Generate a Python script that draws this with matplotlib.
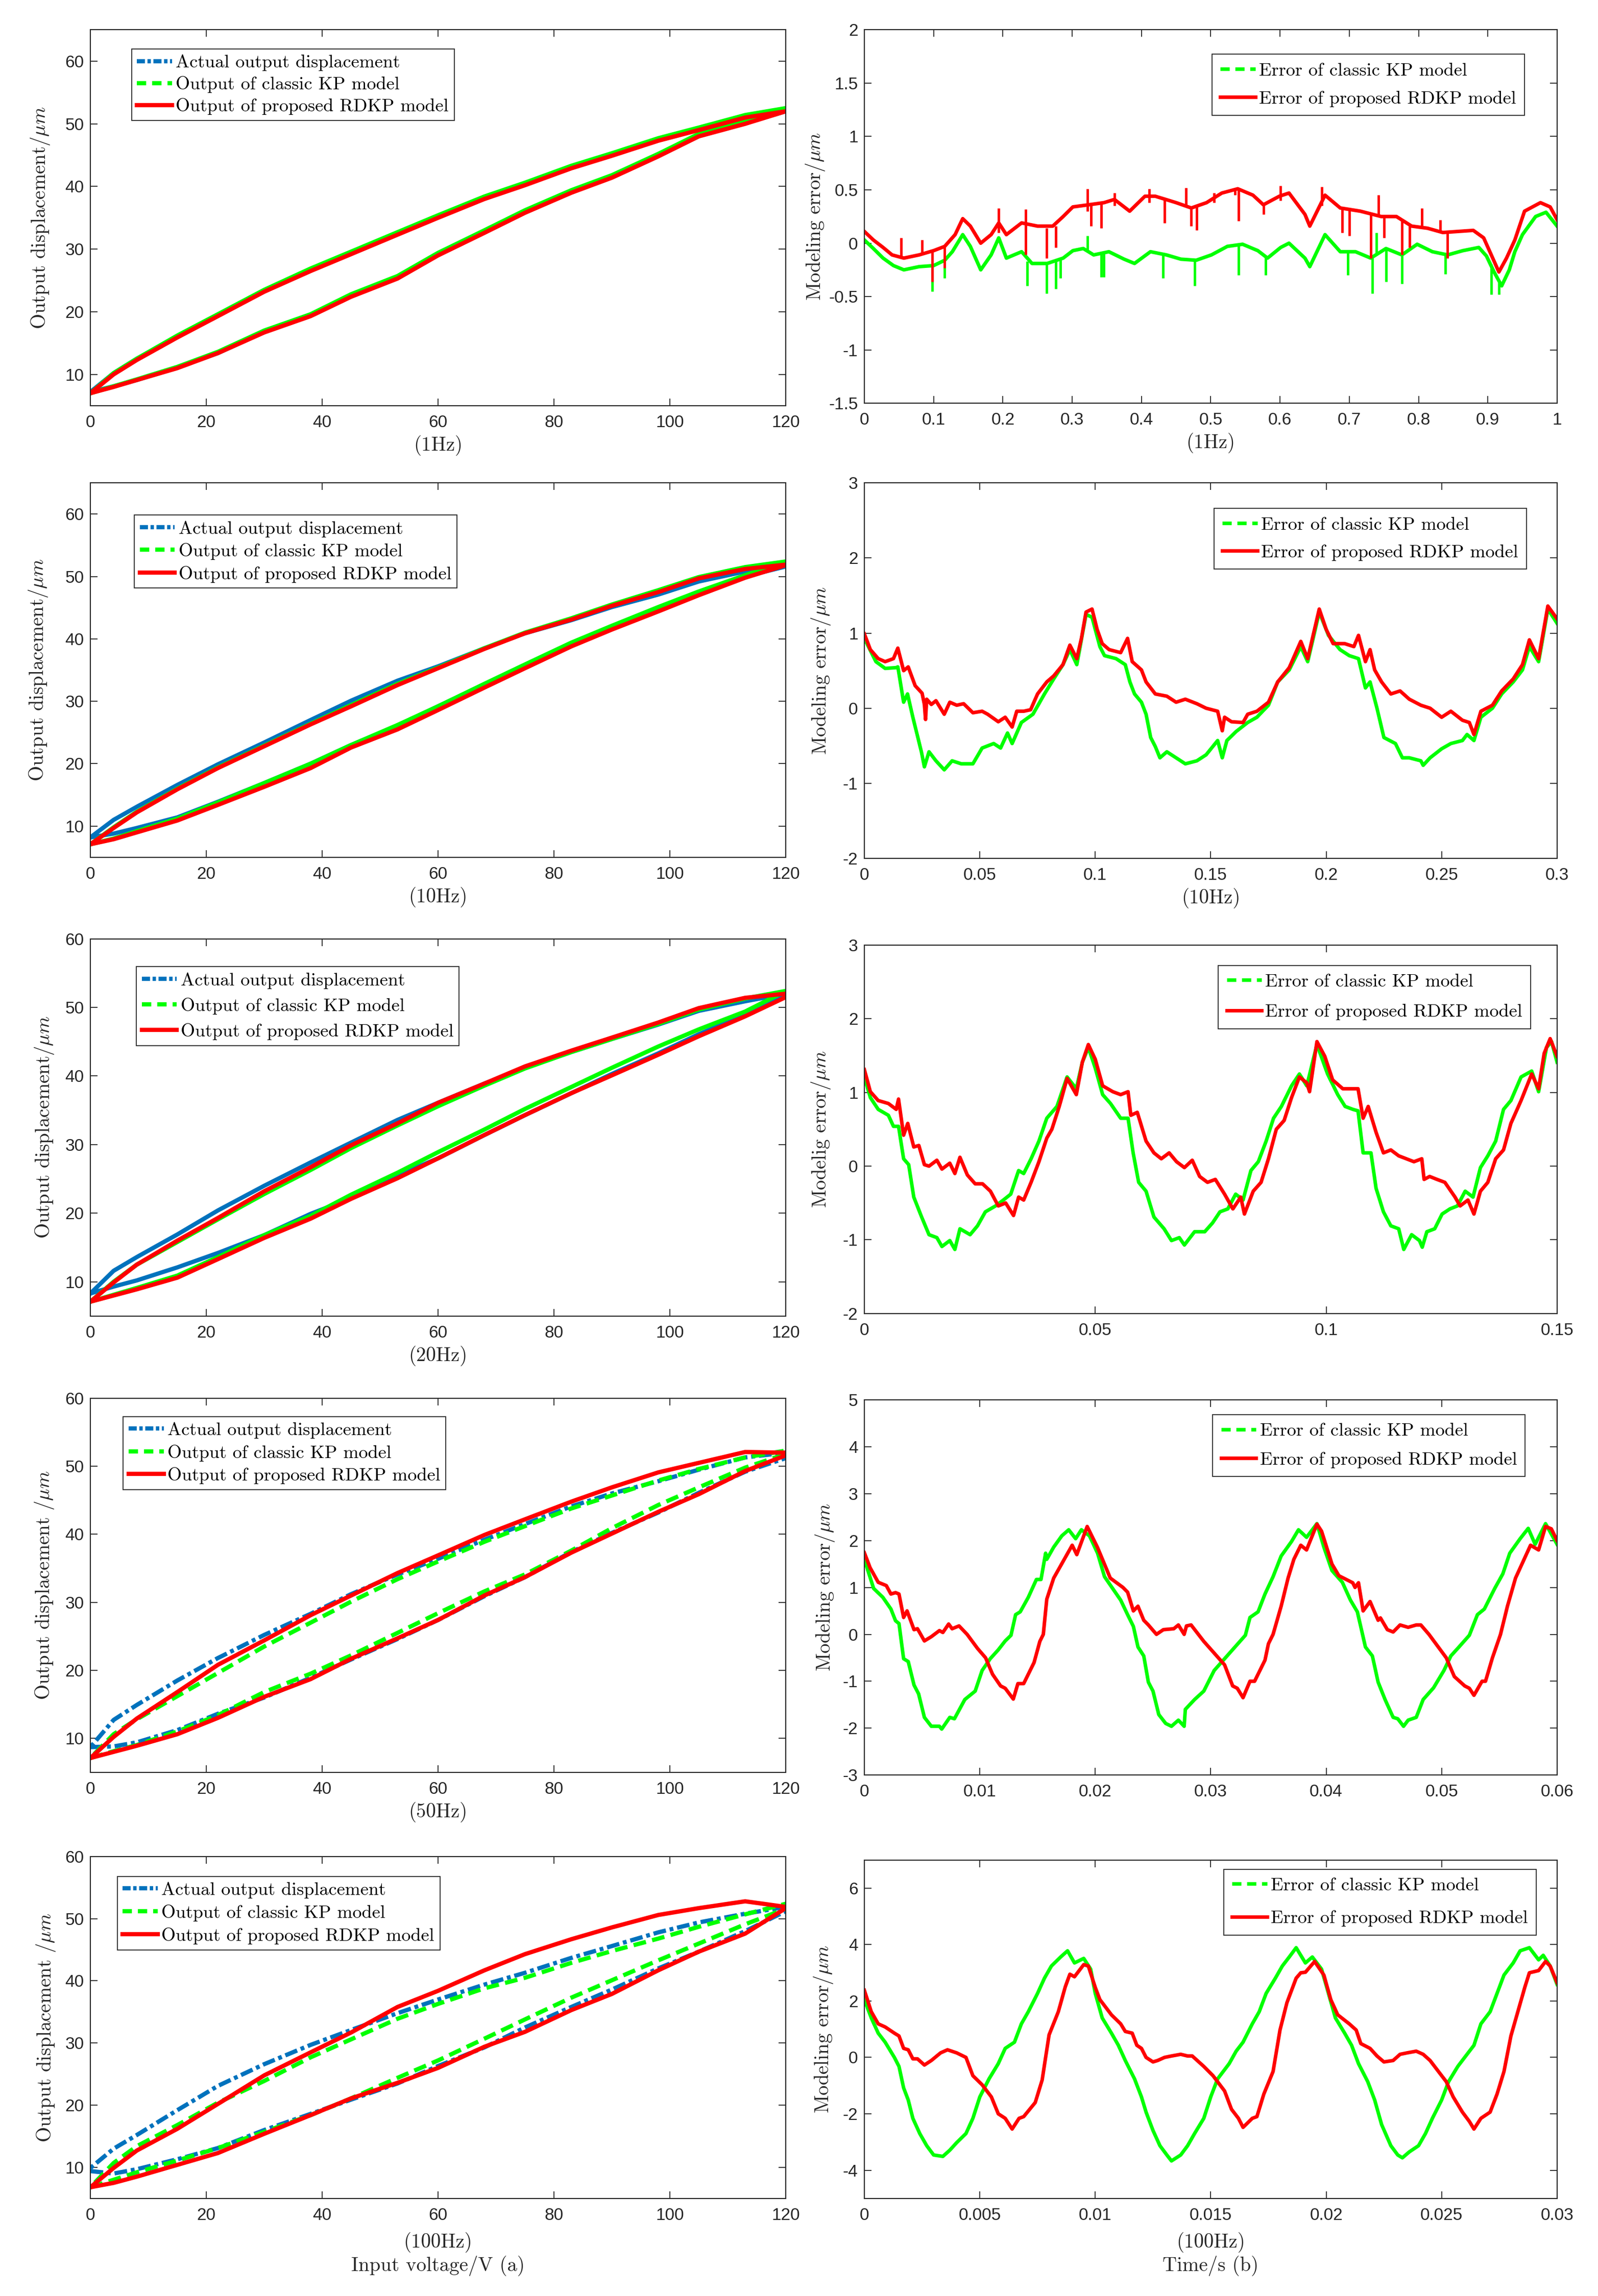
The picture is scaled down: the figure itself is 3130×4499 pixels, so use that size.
import numpy as np
import matplotlib
matplotlib.use('Agg')
import matplotlib.pyplot as plt
from matplotlib.lines import Line2D
from matplotlib.ticker import FixedLocator, FuncFormatter

plt.rcParams['mathtext.fontset'] = 'cm'
plt.rcParams['axes.unicode_minus'] = False

BLUE = '#0072BD'
GREEN = '#00FF00'
RED = '#FF0000'
INK = '#262626'
SERIF = 'cmr10'
SANS = 'Liberation Sans'

# ---------------- hysteresis loops (left column) ----------------
# voltage points; *_LO = ascending branch, *_HI = descending branch (same voltages)
VOLT = [0, 4, 8, 15, 22, 30, 38, 45, 53, 60, 68, 75, 83, 90, 98, 105, 113, 120]

ACT_1_LO = [7.2, 8.1, 9.1, 11.1, 13.4, 16.8, 19.4, 22.5, 25.4, 29.1, 32.7, 35.9, 39.1, 41.5, 44.9, 48.1, 50.1, 52.0]
ACT_1_HI = [7.2, 10.2, 12.5, 16.0, 19.4, 23.3, 26.6, 29.3, 32.4, 35.1, 38.1, 40.3, 43.0, 45.0, 47.4, 49.1, 51.1, 52.0]
KP_1_LO = [7.0, 8.1, 9.2, 11.2, 13.6, 17.0, 19.6, 22.8, 25.7, 29.4, 33.0, 36.2, 39.4, 41.8, 45.2, 48.4, 50.4, 52.5]
KP_1_HI = [7.0, 10.2, 12.5, 16.2, 19.6, 23.5, 26.9, 29.6, 32.7, 35.4, 38.4, 40.6, 43.3, 45.3, 47.7, 49.4, 51.4, 52.5]
RD_1_LO = [7.0, 8.0, 9.1, 11.0, 13.4, 16.7, 19.3, 22.4, 25.3, 29.0, 32.6, 35.8, 39.0, 41.4, 44.8, 48.0, 50.0, 52.0]
RD_1_HI = [7.0, 10.0, 12.3, 15.9, 19.3, 23.2, 26.5, 29.2, 32.3, 35.0, 38.0, 40.2, 42.9, 44.9, 47.3, 49.0, 51.0, 52.0]

ACT_10_LO = [8.2, 8.8, 9.7, 11.4, 13.9, 16.9, 20.0, 23.0, 26.1, 29.2, 32.7, 35.8, 39.3, 42.0, 44.9, 47.4, 50.0, 51.6]
ACT_10_HI = [8.2, 11.0, 13.1, 16.6, 19.9, 23.4, 27.0, 30.1, 33.3, 35.6, 38.5, 40.9, 43.0, 45.1, 47.1, 49.2, 50.8, 51.9]
KP_10_LO = [7.1, 8.0, 9.2, 11.2, 13.8, 16.9, 20.0, 23.0, 26.2, 29.2, 32.8, 35.9, 39.4, 42.1, 45.1, 47.6, 50.2, 52.4]
KP_10_HI = [7.1, 9.8, 12.3, 16.0, 19.4, 22.9, 26.4, 29.4, 32.8, 35.4, 38.5, 41.0, 43.3, 45.5, 47.8, 49.9, 51.5, 52.4]
RD_10_LO = [7.1, 7.9, 9.0, 10.9, 13.4, 16.3, 19.3, 22.6, 25.5, 28.6, 32.2, 35.3, 38.8, 41.5, 44.4, 47.0, 49.8, 51.8]
RD_10_HI = [7.1, 9.7, 12.2, 15.9, 19.3, 22.8, 26.3, 29.2, 32.6, 35.3, 38.4, 40.9, 43.1, 45.3, 47.5, 49.7, 51.2, 51.9]

ACT_20_LO = [8.3, 9.3, 10.2, 12.1, 14.2, 16.8, 19.9, 22.2, 25.5, 28.0, 31.4, 34.3, 37.5, 40.3, 43.3, 46.1, 48.9, 51.7]
ACT_20_HI = [8.3, 11.6, 13.6, 16.9, 20.4, 24.0, 27.4, 30.3, 33.6, 36.1, 38.9, 41.2, 43.5, 45.4, 47.5, 49.5, 50.9, 52.0]
KP_20_LO = [7.1, 8.1, 9.1, 10.9, 13.6, 16.8, 19.6, 22.7, 25.9, 28.9, 32.2, 35.2, 38.4, 41.2, 44.3, 46.8, 49.4, 52.4]
KP_20_HI = [7.1, 10.0, 12.5, 15.8, 19.1, 22.8, 26.3, 29.5, 32.8, 35.6, 38.6, 41.1, 43.5, 45.4, 47.6, 49.7, 51.3, 52.4]
RD_20_LO = [7.1, 8.0, 8.9, 10.6, 13.3, 16.4, 19.2, 22.1, 25.1, 28.0, 31.4, 34.3, 37.5, 40.1, 43.1, 45.8, 48.7, 51.5]
RD_20_HI = [7.1, 9.9, 12.5, 16.0, 19.3, 23.2, 26.7, 29.9, 33.1, 36.1, 38.9, 41.4, 43.7, 45.6, 47.8, 49.9, 51.4, 52.0]

ACT_50_LO = [8.7, 8.8, 9.4, 11.2, 13.6, 16.0, 18.9, 21.6, 24.6, 27.4, 30.9, 33.7, 37.4, 40.2, 43.2, 46.1, 49.2, 51.2]
ACT_50_HI = [8.7, 12.7, 14.9, 18.5, 21.8, 25.2, 28.3, 31.2, 34.1, 36.4, 39.2, 41.5, 44.1, 46.0, 47.8, 49.5, 51.3, 52.0]
KP_50_LO = [7.1, 8.1, 9.0, 11.0, 13.4, 16.8, 19.5, 22.2, 25.5, 28.4, 31.6, 34.1, 37.6, 40.9, 44.3, 46.9, 49.8, 51.8]
KP_50_HI = [7.1, 10.6, 12.8, 16.2, 19.6, 23.5, 27.0, 30.1, 33.4, 36.0, 38.9, 41.2, 43.8, 45.7, 47.9, 49.6, 51.3, 52.3]
RD_50_LO = [7.1, 8.0, 8.9, 10.6, 13.0, 16.1, 18.7, 21.7, 24.7, 27.4, 31.0, 33.7, 37.3, 40.1, 43.3, 45.9, 49.3, 51.6]
RD_50_HI = [7.1, 10.2, 12.9, 16.8, 20.8, 24.4, 28.1, 31.0, 34.3, 36.9, 39.9, 42.2, 44.8, 46.9, 49.1, 50.5, 52.1, 52.0]

ACT_100_LO = [9.4, 9.0, 9.7, 11.3, 13.1, 16.0, 18.6, 20.9, 23.5, 26.3, 29.3, 32.5, 35.8, 38.6, 42.0, 44.7, 48.0, 51.2]
ACT_100_HI = [9.9, 13.0, 15.2, 19.2, 23.1, 26.6, 29.7, 32.1, 34.8, 37.0, 39.4, 41.3, 43.7, 45.6, 47.8, 49.4, 50.8, 51.9]
KP_100_LO = [6.8, 8.0, 9.2, 11.1, 13.1, 15.7, 18.4, 21.1, 24.4, 27.2, 30.7, 33.8, 37.3, 40.1, 43.3, 46.0, 49.1, 51.6]
KP_100_HI = [6.8, 10.7, 13.4, 16.8, 20.4, 23.9, 27.7, 30.6, 33.9, 36.3, 38.8, 40.5, 42.9, 44.8, 46.8, 48.7, 50.7, 52.4]
RD_100_LO = [6.8, 7.5, 8.5, 10.4, 12.3, 15.4, 18.4, 21.1, 23.6, 26.0, 29.4, 31.8, 35.3, 37.9, 41.7, 44.7, 47.6, 51.7]
RD_100_HI = [6.8, 9.9, 12.7, 16.2, 20.2, 24.8, 28.5, 31.7, 35.8, 38.4, 41.7, 44.3, 46.7, 48.6, 50.6, 51.7, 52.8, 51.9]

# ---------------- modelling errors (right column), (time s, error um) ----------------
ERR_1_KP = [(0, 0.03), (0.013, -0.05), (0.027, -0.14), (0.042, -0.21), (0.057, -0.25), (0.079, -0.22),
            (0.1, -0.21), (0.116, -0.16), (0.127, -0.08), (0.142, 0.08), (0.153, -0.03), (0.168, -0.25),
            (0.183, -0.11), (0.194, 0.05), (0.205, -0.14), (0.227, -0.08), (0.242, -0.19), (0.264, -0.19),
            (0.287, -0.14), (0.301, -0.07), (0.316, -0.05), (0.331, -0.11), (0.353, -0.08), (0.375, -0.15),
            (0.39, -0.19), (0.413, -0.08), (0.436, -0.11), (0.457, -0.15), (0.479, -0.16), (0.501, -0.11),
            (0.524, -0.03), (0.546, -0.01), (0.568, -0.07), (0.582, -0.14), (0.601, -0.04), (0.613, 0.0),
            (0.636, -0.14), (0.643, -0.22), (0.665, 0.08), (0.687, -0.08), (0.709, -0.08), (0.731, -0.14),
            (0.753, -0.05), (0.776, -0.11), (0.798, -0.01), (0.82, -0.08), (0.842, -0.11), (0.864, -0.07),
            (0.887, -0.04), (0.898, -0.12), (0.909, -0.27), (0.92, -0.40), (0.931, -0.25), (0.939, -0.08),
            (0.95, 0.08), (0.969, 0.25), (0.984, 0.29), (1.0, 0.16)]
ERR_1_RD = [(0, 0.11), (0.013, 0.03), (0.027, -0.04), (0.04, -0.11), (0.057, -0.14), (0.079, -0.11),
            (0.1, -0.07), (0.116, -0.03), (0.131, 0.08), (0.142, 0.23), (0.153, 0.16), (0.168, 0.0),
            (0.183, 0.08), (0.194, 0.19), (0.205, 0.08), (0.227, 0.19), (0.25, 0.16), (0.272, 0.16),
            (0.287, 0.25), (0.301, 0.34), (0.324, 0.36), (0.346, 0.38), (0.361, 0.41), (0.383, 0.30),
            (0.405, 0.44), (0.42, 0.44), (0.45, 0.38), (0.472, 0.33), (0.494, 0.38), (0.516, 0.47),
            (0.539, 0.51), (0.561, 0.45), (0.576, 0.36), (0.599, 0.44), (0.613, 0.47), (0.636, 0.27),
            (0.643, 0.16), (0.665, 0.45), (0.687, 0.33), (0.716, 0.30), (0.746, 0.25), (0.768, 0.25),
            (0.79, 0.16), (0.813, 0.14), (0.835, 0.10), (0.857, 0.11), (0.879, 0.12), (0.894, 0.05),
            (0.905, -0.11), (0.916, -0.27), (0.927, -0.14), (0.939, 0.03), (0.953, 0.30), (0.976, 0.38),
            (0.99, 0.34), (1.0, 0.22)]
# measurement spikes at 1 Hz: (time, low, high)
SPIKE_1_KP = [(0.098, -0.45, -0.2), (0.116, -0.33, -0.15), (0.235, -0.4, -0.17), (0.263, -0.47, -0.18),
              (0.276, -0.43, -0.16), (0.283, -0.33, -0.14), (0.322, -0.08, 0.07), (0.342, -0.32, -0.09),
              (0.346, -0.32, -0.08), (0.431, -0.33, -0.1), (0.477, -0.40, -0.16), (0.54, -0.30, -0.02),
              (0.579, -0.30, -0.12), (0.698, -0.30, -0.08), (0.733, -0.47, -0.13), (0.739, -0.1, 0.1),
              (0.753, -0.36, -0.06), (0.776, -0.38, -0.11), (0.839, -0.29, -0.1), (0.905, -0.48, -0.2),
              (0.916, -0.48, -0.35)]
SPIKE_1_RD = [(0.053, -0.13, 0.05), (0.083, -0.1, 0.03), (0.194, 0.1, 0.33), (0.233, 0.12, 0.32),
              (0.322, 0.3, 0.51), (0.361, 0.35, 0.47), (0.411, 0.38, 0.51), (0.464, 0.34, 0.52),
              (0.505, 0.38, 0.47), (0.535, 0.45, 0.52), (0.601, 0.4, 0.54), (0.66, 0.35, 0.53),
              (0.742, 0.25, 0.45), (0.805, 0.15, 0.33), (0.831, 0.1, 0.22), (0.098, -0.36, -0.08),
              (0.116, -0.23, -0.03), (0.233, -0.11, 0.17), (0.263, -0.14, 0.14), (0.276, -0.04, 0.16),
              (0.327, 0.16, 0.36), (0.342, 0.14, 0.38), (0.433, 0.19, 0.42), (0.472, 0.16, 0.34),
              (0.48, 0.12, 0.36), (0.54, 0.21, 0.5), (0.576, 0.27, 0.38), (0.69, 0.1, 0.33),
              (0.7, 0.07, 0.32), (0.731, -0.14, 0.28), (0.75, 0.05, 0.25), (0.776, -0.11, 0.22),
              (0.787, -0.04, 0.18), (0.842, -0.14, 0.1)]

ERR_10_KP = [(0, 0.93), (0.005, 0.62), (0.009, 0.53), (0.0137, 0.54), (0.0145, 0.55), (0.017, 0.08),
             (0.0187, 0.19), (0.021, -0.12), (0.0247, -0.58), (0.026, -0.78), (0.028, -0.58), (0.031, -0.7),
             (0.0346, -0.82), (0.038, -0.7), (0.042, -0.74), (0.047, -0.74), (0.051, -0.53), (0.056, -0.47),
             (0.059, -0.53), (0.062, -0.33), (0.064, -0.47), (0.068, -0.19), (0.073, -0.08), (0.078, 0.19),
             (0.082, 0.39), (0.086, 0.58), (0.089, 0.78), (0.092, 0.58), (0.096, 1.25), (0.0986, 1.21),
             (0.102, 0.82), (0.104, 0.7), (0.109, 0.66), (0.113, 0.58), (0.115, 0.35), (0.117, 0.19),
             (0.12, 0.08), (0.122, -0.08), (0.124, -0.39), (0.126, -0.51), (0.128, -0.66), (0.131, -0.58),
             (0.135, -0.66), (0.139, -0.74), (0.144, -0.7), (0.148, -0.62), (0.153, -0.43), (0.155, -0.66),
             (0.157, -0.43), (0.161, -0.31), (0.166, -0.19), (0.17, -0.12), (0.175, 0.04), (0.179, 0.35),
             (0.184, 0.51), (0.189, 0.82), (0.192, 0.62), (0.197, 1.28), (0.201, 0.97), (0.206, 0.78),
             (0.21, 0.7), (0.214, 0.66), (0.217, 0.27), (0.219, 0.35), (0.222, 0.0), (0.225, -0.39),
             (0.23, -0.47), (0.233, -0.66), (0.236, -0.66), (0.241, -0.7), (0.242, -0.76), (0.245, -0.66),
             (0.25, -0.54), (0.254, -0.47), (0.259, -0.43), (0.261, -0.35), (0.264, -0.43), (0.267, -0.12),
             (0.272, 0.0), (0.276, 0.19), (0.281, 0.35), (0.285, 0.51), (0.288, 0.82), (0.292, 0.62),
             (0.296, 1.32), (0.3, 1.13)]
ERR_10_RD = [(0, 0.99), (0.0026, 0.78), (0.006, 0.66), (0.009, 0.62), (0.0126, 0.66), (0.0145, 0.8),
             (0.017, 0.5), (0.019, 0.55), (0.022, 0.3), (0.025, 0.2), (0.026, 0.05), (0.0265, -0.15),
             (0.027, 0.12), (0.029, 0.05), (0.031, 0.1), (0.0346, -0.08), (0.037, 0.08), (0.04, 0.04),
             (0.043, 0.06), (0.047, -0.06), (0.051, -0.04), (0.0534, -0.08), (0.058, -0.18), (0.061, -0.12),
             (0.064, -0.25), (0.066, -0.04), (0.069, -0.04), (0.072, -0.02), (0.075, 0.19), (0.079, 0.35),
             (0.082, 0.43), (0.086, 0.58), (0.089, 0.84), (0.092, 0.66), (0.094, 0.93), (0.096, 1.28),
             (0.0986, 1.32), (0.1008, 1.05), (0.103, 0.86), (0.106, 0.78), (0.111, 0.74), (0.114, 0.93),
             (0.116, 0.62), (0.12, 0.51), (0.122, 0.35), (0.126, 0.19), (0.131, 0.16), (0.135, 0.08),
             (0.139, 0.12), (0.144, 0.06), (0.148, 0.0), (0.153, -0.04), (0.155, -0.3), (0.156, -0.12),
             (0.159, -0.18), (0.164, -0.19), (0.166, -0.08), (0.17, -0.04), (0.175, 0.08), (0.179, 0.35),
             (0.184, 0.54), (0.189, 0.89), (0.192, 0.66), (0.197, 1.32), (0.2, 1.05), (0.203, 0.86),
             (0.208, 0.86), (0.212, 0.82), (0.214, 0.97), (0.217, 0.62), (0.219, 0.78), (0.221, 0.51),
             (0.224, 0.35), (0.228, 0.19), (0.232, 0.23), (0.236, 0.12), (0.241, 0.04), (0.245, 0.0),
             (0.25, -0.12), (0.254, -0.04), (0.259, -0.16), (0.262, -0.19), (0.264, -0.35), (0.267, -0.04),
             (0.272, 0.04), (0.276, 0.23), (0.281, 0.39), (0.285, 0.58), (0.288, 0.91), (0.292, 0.66),
             (0.296, 1.36), (0.3, 1.19)]

ERR_20_KP = [(0, 1.21), (0.0013, 0.93), (0.003, 0.77), (0.0052, 0.69), (0.0063, 0.54), (0.0074, 0.54),
             (0.0085, 0.1), (0.0096, 0.02), (0.0107, -0.42), (0.0124, -0.69), (0.014, -0.93), (0.0157, -0.97),
             (0.0168, -1.09), (0.0185, -1.01), (0.0196, -1.13), (0.0207, -0.85), (0.0229, -0.93),
             (0.0245, -0.81), (0.0262, -0.62), (0.0284, -0.54), (0.0301, -0.46), (0.0317, -0.38),
             (0.0334, -0.06), (0.0345, -0.1), (0.0361, 0.1), (0.0378, 0.34), (0.0395, 0.65), (0.0417, 0.81),
             (0.0439, 1.21), (0.0459, 1.05), (0.0472, 1.41), (0.0485, 1.61), (0.05, 1.33), (0.0516, 0.97),
             (0.0533, 0.85), (0.0555, 0.65), (0.0571, 0.65), (0.0582, 0.18), (0.0594, -0.22), (0.061, -0.34),
             (0.0627, -0.69), (0.0649, -0.85), (0.0665, -1.01), (0.0682, -0.97), (0.0693, -1.07),
             (0.0715, -0.89), (0.0737, -0.89), (0.0754, -0.77), (0.077, -0.62), (0.0787, -0.58),
             (0.0804, -0.38), (0.082, -0.46), (0.0837, -0.06), (0.0853, 0.06), (0.087, 0.34), (0.0886, 0.65),
             (0.0903, 0.81), (0.0925, 1.09), (0.0942, 1.25), (0.0958, 1.09), (0.098, 1.65), (0.1003, 1.25),
             (0.1025, 0.97), (0.1041, 0.81), (0.1058, 0.77), (0.1069, 0.75), (0.108, 0.18), (0.1097, 0.18),
             (0.1108, -0.3), (0.1124, -0.62), (0.114, -0.81), (0.1157, -0.85), (0.1168, -1.13),
             (0.1185, -0.93), (0.1202, -1.01), (0.1208, -1.1), (0.1218, -0.89), (0.1235, -0.85),
             (0.1251, -0.65), (0.1268, -0.58), (0.1284, -0.54), (0.1301, -0.34), (0.1318, -0.42),
             (0.1334, -0.02), (0.135, 0.14), (0.1367, 0.34), (0.1384, 0.77), (0.14, 0.89), (0.1422, 1.21),
             (0.1445, 1.29), (0.146, 1.01), (0.1477, 1.61), (0.1488, 1.69), (0.15, 1.41)]
ERR_20_RD = [(0, 1.31), (0.0013, 1.01), (0.003, 0.89), (0.0052, 0.85), (0.0069, 0.77), (0.0074, 0.91),
             (0.0085, 0.42), (0.0094, 0.58), (0.0107, 0.26), (0.0118, 0.28), (0.013, 0.02), (0.014, 0.0),
             (0.0157, 0.08), (0.0168, -0.04), (0.0185, 0.04), (0.0196, -0.1), (0.0207, 0.12), (0.0223, -0.12),
             (0.024, -0.24), (0.0256, -0.24), (0.0273, -0.34), (0.029, -0.54), (0.0306, -0.5), (0.0323, -0.67),
             (0.0334, -0.42), (0.0345, -0.46), (0.0361, -0.22), (0.0378, 0.06), (0.0395, 0.38), (0.0406, 0.5),
             (0.0422, 0.81), (0.0439, 1.19), (0.0459, 0.97), (0.0472, 1.41), (0.0485, 1.65), (0.05, 1.45),
             (0.0516, 1.09), (0.0538, 1.01), (0.0555, 0.97), (0.0571, 1.01), (0.0577, 0.69), (0.0591, 0.73),
             (0.061, 0.34), (0.0627, 0.18), (0.0643, 0.1), (0.066, 0.18), (0.0676, 0.06), (0.0693, -0.02),
             (0.071, 0.08), (0.0726, -0.14), (0.0743, -0.22), (0.076, -0.18), (0.078, -0.38), (0.0798, -0.58),
             (0.0815, -0.42), (0.0823, -0.65), (0.0842, -0.34), (0.0859, -0.22), (0.0875, 0.1), (0.0892, 0.5),
             (0.0909, 0.62), (0.0925, 0.93), (0.0942, 1.21), (0.0958, 1.13), (0.0964, 1.01), (0.098, 1.69),
             (0.0997, 1.49), (0.1014, 1.17), (0.1036, 1.05), (0.1058, 1.05), (0.1069, 1.05), (0.108, 0.65),
             (0.1091, 0.81), (0.1108, 0.46), (0.1124, 0.18), (0.114, 0.22), (0.1157, 0.14), (0.119, 0.06),
             (0.1207, 0.1), (0.1212, -0.18), (0.1224, -0.14), (0.124, -0.18), (0.1257, -0.22), (0.1279, -0.42),
             (0.129, -0.54), (0.1307, -0.46), (0.132, -0.65), (0.1334, -0.34), (0.135, -0.22), (0.1367, 0.1),
             (0.1384, 0.22), (0.14, 0.58), (0.1422, 0.89), (0.1445, 1.25), (0.146, 1.05), (0.1472, 1.53),
             (0.1485, 1.73), (0.15, 1.49)]

ERR_50_KP = [(0, 1.6), (0.0008, 0.98), (0.0016, 0.79), (0.0023, 0.54), (0.0027, 0.29), (0.003, 0.23),
             (0.0034, -0.52), (0.0038, -0.58), (0.0043, -1.08), (0.0047, -1.27), (0.0052, -1.77),
             (0.0058, -1.96), (0.0065, -1.96), (0.0067, -2.02), (0.0074, -1.77), (0.0078, -1.8),
             (0.0087, -1.39), (0.0096, -1.21), (0.0102, -0.77), (0.0109, -0.52), (0.0116, -0.33),
             (0.0122, -0.14), (0.0127, -0.02), (0.0131, 0.42), (0.0135, 0.48), (0.0142, 0.79), (0.0149, 1.17),
             (0.0153, 1.17), (0.0157, 1.73), (0.0158, 1.6), (0.0164, 1.86), (0.0171, 2.1), (0.0177, 2.23),
             (0.0183, 2.04), (0.0188, 2.23), (0.0195, 2.1), (0.0202, 1.73), (0.0208, 1.23), (0.0215, 0.98),
             (0.0222, 0.73), (0.0228, 0.42), (0.0233, 0.17), (0.0237, -0.27), (0.0242, -0.46), (0.0246, -1.02),
             (0.025, -1.21), (0.0255, -1.71), (0.0261, -1.9), (0.0266, -1.96), (0.0272, -1.83), (0.0277, -1.96),
             (0.0278, -1.6), (0.0286, -1.39), (0.0294, -1.21), (0.0303, -0.77), (0.0312, -0.52),
             (0.0321, -0.27), (0.033, -0.02), (0.0334, 0.36), (0.0341, 0.48), (0.0347, 0.86), (0.0354, 1.23),
             (0.0361, 1.67), (0.037, 1.98), (0.0376, 2.23), (0.0383, 2.07), (0.0392, 2.36), (0.0398, 1.86),
             (0.0405, 1.36), (0.0414, 1.11), (0.0421, 0.73), (0.0427, 0.48), (0.0434, -0.27), (0.044, -0.46),
             (0.0445, -1.02), (0.0451, -1.39), (0.0458, -1.77), (0.0462, -1.8), (0.0467, -1.96),
             (0.0471, -1.83), (0.0478, -1.77), (0.0484, -1.39), (0.0493, -1.14), (0.0502, -0.77),
             (0.0508, -0.46), (0.0515, -0.27), (0.0524, -0.02), (0.0531, 0.42), (0.0537, 0.54), (0.0546, 0.98),
             (0.0553, 1.29), (0.0559, 1.73), (0.0568, 2.04), (0.0575, 2.26), (0.0581, 1.92), (0.059, 2.36),
             (0.06, 1.92)]
ERR_50_RD = [(0, 1.74), (0.0005, 1.42), (0.0012, 1.11), (0.0019, 1.04), (0.0023, 0.86), (0.0027, 0.89),
             (0.003, 0.86), (0.0034, 0.36), (0.0037, 0.5), (0.0043, 0.1), (0.0046, 0.12), (0.0052, -0.14),
             (0.0058, -0.05), (0.0065, 0.08), (0.0068, 0.04), (0.0073, 0.22), (0.0076, 0.12), (0.0082, 0.18),
             (0.0089, 0.0), (0.0098, -0.3), (0.0105, -0.5), (0.0111, -0.85), (0.0118, -1.1), (0.0122, -1.15),
             (0.0129, -1.38), (0.0133, -1.05), (0.0138, -1.05), (0.0147, -0.6), (0.0152, -0.15), (0.0155, 0.0),
             (0.0158, 0.75), (0.0164, 1.2), (0.018, 1.9), (0.0184, 1.7), (0.0193, 2.3), (0.0202, 1.85),
             (0.0213, 1.2), (0.0224, 1.0), (0.0228, 0.9), (0.0233, 0.5), (0.0237, 0.6), (0.0242, 0.3),
             (0.0246, 0.2), (0.0253, 0.0), (0.0259, 0.1), (0.0268, 0.12), (0.0272, 0.2), (0.0277, 0.0),
             (0.0279, 0.18), (0.0283, 0.2), (0.0294, -0.15), (0.0303, -0.4), (0.0312, -0.65), (0.0319, -1.1),
             (0.0323, -1.15), (0.0328, -1.35), (0.0334, -1.0), (0.0338, -1.0), (0.0347, -0.55), (0.035, -0.2),
             (0.0354, 0.0), (0.0361, 0.6), (0.0367, 1.2), (0.0372, 1.6), (0.0378, 1.9), (0.0383, 1.8),
             (0.0392, 2.35), (0.0396, 2.2), (0.0405, 1.5), (0.0411, 1.25), (0.0423, 1.1), (0.0425, 1.0),
             (0.0428, 1.1), (0.0432, 0.5), (0.0438, 0.7), (0.0445, 0.3), (0.0447, 0.35), (0.0453, 0.1),
             (0.0458, 0.05), (0.0464, 0.2), (0.0471, 0.15), (0.0478, 0.2), (0.0482, 0.2), (0.0489, 0.0),
             (0.0498, -0.3), (0.0504, -0.5), (0.0511, -0.9), (0.052, -1.1), (0.0524, -1.15), (0.0528, -1.3),
             (0.0535, -1.0), (0.0538, -1.0), (0.0544, -0.5), (0.0551, 0.0), (0.0557, 0.6), (0.0564, 1.2),
             (0.0577, 1.9), (0.0584, 1.8), (0.059, 2.3), (0.0595, 2.25), (0.06, 2.0)]

ERR_100_KP = [(0, 2.05), (0.0003, 1.4), (0.0006, 0.86), (0.0009, 0.54), (0.0013, 0.0), (0.0015, -0.32),
              (0.0017, -1.08), (0.0019, -1.51), (0.0021, -2.16), (0.0024, -2.7), (0.0027, -3.13),
              (0.003, -3.46), (0.0034, -3.51), (0.0037, -3.29), (0.004, -3.02), (0.0044, -2.7),
              (0.0047, -2.16), (0.005, -1.4), (0.0054, -0.76), (0.0058, -0.22), (0.0061, 0.32), (0.0065, 0.54),
              (0.0068, 1.19), (0.0071, 1.62), (0.0075, 2.27), (0.0078, 2.81), (0.0081, 3.24), (0.0085, 3.56),
              (0.0088, 3.78), (0.0091, 3.35), (0.0095, 3.51), (0.0098, 3.13), (0.01, 2.27), (0.0103, 1.4),
              (0.0107, 0.86), (0.011, 0.43), (0.0113, -0.11), (0.0117, -0.76), (0.012, -1.4), (0.0122, -1.94),
              (0.0125, -2.59), (0.0128, -3.13), (0.0131, -3.46), (0.0133, -3.67), (0.0137, -3.46),
              (0.014, -3.13), (0.0143, -2.7), (0.0147, -2.16), (0.015, -1.4), (0.0153, -0.76), (0.0158, -0.22),
              (0.0161, 0.22), (0.0164, 0.54), (0.0168, 1.19), (0.0171, 1.62), (0.0174, 2.27), (0.0178, 2.81),
              (0.0181, 3.24), (0.0184, 3.56), (0.0187, 3.89), (0.0191, 3.35), (0.0194, 3.56), (0.0198, 3.13),
              (0.0201, 2.27), (0.0204, 1.4), (0.0208, 0.86), (0.0211, 0.43), (0.0214, -0.22), (0.0218, -0.86),
              (0.0221, -1.51), (0.0224, -2.38), (0.0228, -3.13), (0.0231, -3.46), (0.0233, -3.56),
              (0.0236, -3.35), (0.024, -3.13), (0.0243, -2.7), (0.0246, -2.16), (0.025, -1.51),
              (0.0253, -0.86), (0.0257, -0.32), (0.0261, 0.11), (0.0264, 0.43), (0.0267, 1.19), (0.0271, 1.62),
              (0.0274, 2.27), (0.0277, 2.92), (0.0281, 3.35), (0.0284, 3.78), (0.0288, 3.89), (0.0292, 3.46),
              (0.0294, 3.62), (0.0297, 3.24), (0.03, 2.59)]
ERR_100_RD = [(0, 2.38), (0.0003, 1.62), (0.0006, 1.19), (0.0009, 1.08), (0.0013, 0.86), (0.0015, 0.76),
              (0.0017, 0.32), (0.0019, 0.27), (0.0021, -0.05), (0.0023, -0.05), (0.0026, -0.27),
              (0.0029, -0.11), (0.0033, 0.16), (0.0036, 0.27), (0.004, 0.16), (0.0044, 0.0), (0.0047, -0.65),
              (0.0051, -0.97), (0.0055, -1.4), (0.0058, -2.0), (0.0061, -2.16), (0.0064, -2.54),
              (0.0067, -2.16), (0.0069, -2.1), (0.0074, -1.6), (0.0077, -0.8), (0.008, 0.8), (0.0084, 1.62),
              (0.0087, 2.5), (0.0089, 2.95), (0.0091, 2.86), (0.0095, 3.29), (0.0097, 3.24), (0.01, 2.48),
              (0.0102, 2.05), (0.0107, 1.51), (0.0111, 1.19), (0.0113, 0.92), (0.0116, 0.86), (0.0118, 0.43),
              (0.012, 0.32), (0.0122, 0.0), (0.0125, -0.16), (0.0127, -0.11), (0.013, 0.0), (0.0133, 0.05),
              (0.0137, 0.11), (0.014, 0.05), (0.0142, 0.05), (0.0147, -0.32), (0.0151, -0.65), (0.0156, -1.19),
              (0.0159, -1.84), (0.0162, -2.16), (0.0164, -2.48), (0.0168, -2.16), (0.017, -2.1),
              (0.0173, -1.3), (0.0177, -0.5), (0.018, 0.97), (0.0183, 1.94), (0.0187, 2.81), (0.0189, 3.0),
              (0.0191, 3.02), (0.0195, 3.4), (0.0199, 2.92), (0.0202, 2.05), (0.0205, 1.51), (0.021, 1.19),
              (0.0213, 0.97), (0.0215, 0.49), (0.0219, 0.32), (0.0222, 0.05), (0.0225, -0.16), (0.0229, -0.11),
              (0.0232, 0.11), (0.0235, 0.16), (0.0239, 0.22), (0.0242, 0.11), (0.0245, -0.11), (0.0249, -0.54),
              (0.0252, -0.86), (0.0255, -1.4), (0.0259, -1.94), (0.0262, -2.27), (0.0264, -2.54),
              (0.0267, -2.16), (0.0271, -1.94), (0.0274, -1.3), (0.0277, -0.5), (0.028, 0.76), (0.0283, 1.62),
              (0.0286, 2.48), (0.0288, 3.0), (0.0292, 3.08), (0.0295, 3.4), (0.0297, 3.24), (0.03, 2.65)]

FREQ_LABELS = ['(1Hz)', '(10Hz)', '(20Hz)', '(50Hz)', '(100Hz)']
LOOP_LABELS = ['Actual output displacement', 'Output of classic KP model', 'Output of proposed RDKP model']
ERR_LABELS = ['Error of classic KP model', 'Error of proposed RDKP model']

loops = [
    (ACT_1_LO, ACT_1_HI, KP_1_LO, KP_1_HI, RD_1_LO, RD_1_HI),
    (ACT_10_LO, ACT_10_HI, KP_10_LO, KP_10_HI, RD_10_LO, RD_10_HI),
    (ACT_20_LO, ACT_20_HI, KP_20_LO, KP_20_HI, RD_20_LO, RD_20_HI),
    (ACT_50_LO, ACT_50_HI, KP_50_LO, KP_50_HI, RD_50_LO, RD_50_HI),
    (ACT_100_LO, ACT_100_HI, KP_100_LO, KP_100_HI, RD_100_LO, RD_100_HI),
]
errors = [(ERR_1_KP, ERR_1_RD), (ERR_10_KP, ERR_10_RD), (ERR_20_KP, ERR_20_RD),
          (ERR_50_KP, ERR_50_RD), (ERR_100_KP, ERR_100_RD)]

# ---------------- layout (figure fractions) ----------------
FIG_W, FIG_H = 3130, 4499
LX, LW = 0.0566, 0.4351
RX, RW = 0.5409, 0.4335
left_rows = [(0.8233, 0.1637), (0.6266, 0.1631), (0.4268, 0.1643), (0.2281, 0.1629), (0.0425, 0.1489)]
right_rows = [(0.8244, 0.1626), (0.6261, 0.1636), (0.4279, 0.1605), (0.2269, 0.1634), (0.0425, 0.1474)]
left_ylim = [(5, 65), (5, 65), (5, 60), (5, 60), (5, 60)]
right_xlim = [1.0, 0.3, 0.15, 0.06, 0.03]
right_xstep = [0.1, 0.05, 0.05, 0.01, 0.005]
right_ylim = [(-1.5, 2), (-2, 3), (-2, 3), (-3, 5), (-5, 7)]
right_ystep = [0.5, 1, 1, 1, 2]
left_ylabel = ['Output displacement/$\\mu m$'] * 3 + ['Output displacement /$\\mu m$'] * 2
right_ylabel = ['Modeling error/$\\mu m$', 'Modeling error/$\\mu m$', 'Modelig error/$\\mu m$',
                'Modeling error/$\\mu m$', 'Modeling error/$\\mu m$']
left_xlabel = FREQ_LABELS[:4] + ['(100Hz)\nInput voltage/V (a)']
right_xlabel = ['(1Hz)', '(10Hz)', '', '', '(100Hz)\nTime/s (b)']
left_ylab_x = [-0.072, -0.075, -0.066, -0.066, -0.064]
right_ylab_x = [-0.071, -0.063, -0.063, -0.057, -0.059]
left_leg = [(0.059, 0.949, 43), (0.063, 0.914, 44.5), (0.066, 0.926, 50), (0.047, 0.951, 44.5), (0.0385, 0.942, 45)]
right_leg = [(0.953, 0.935, 56), (0.956, 0.932, 55), (0.962, 0.945, 60), (0.954, 0.961, 57), (0.970, 0.973, 65)]
dashed_rows = [False, False, False, True, True]

LEG_FS = 26
LAB_FS = 28
TICK_FS = 24
LW_LOOP = 6
LW_ERR = 5

fmt = FuncFormatter(lambda v, p: '%g' % round(v, 6))


def style(ax, xticks, yticks):
    ax.xaxis.set_major_locator(FixedLocator(xticks))
    ax.yaxis.set_major_locator(FixedLocator(yticks))
    ax.xaxis.set_major_formatter(fmt)
    ax.yaxis.set_major_formatter(fmt)
    ax.tick_params(direction='in', length=10, width=1.3, top=True, right=True,
                   colors=INK, labelsize=TICK_FS, labelfontfamily=SANS)
    ax.tick_params(axis='x', pad=13)
    ax.tick_params(axis='y', pad=9)
    for s in ax.spines.values():
        s.set_linewidth(1.5)
        s.set_color(INK)


def add_labels(ax, xlabel, ylabel, ylab_x, ax_h_px):
    ax.set_ylabel(ylabel, fontfamily=SERIF, fontsize=LAB_FS, color=INK, va='center')
    ax.yaxis.set_label_coords(ylab_x, 0.5)
    if xlabel:
        off = 66 if '\n' in xlabel else 58
        ax.set_xlabel(xlabel, fontfamily=SERIF, fontsize=LAB_FS, color=INK, va='top', linespacing=1.2)
        ax.xaxis.set_label_coords(0.5, -off / ax_h_px)


def legend(ax, handles, labels, loc, anchor, pitch, pad):
    ls = max(pitch - 33.0, 0) / (LEG_FS * 100 / 72.0)
    leg = ax.legend(handles, labels, loc=loc, bbox_to_anchor=anchor, prop={'family': SERIF, 'size': LEG_FS},
                    frameon=True, fancybox=False, framealpha=1, edgecolor=INK, borderaxespad=0,
                    handlelength=1.9, handletextpad=0.2, labelspacing=ls, borderpad=pad)
    leg.get_frame().set_linewidth(1.3)


fig = plt.figure(figsize=(FIG_W / 100, FIG_H / 100), dpi=100)

for i in range(5):
    # ---- hysteresis loop ----
    b, h = left_rows[i]
    ax = fig.add_axes([LX, b, LW, h])
    a_lo, a_hi, k_lo, k_hi, r_lo, r_hi = loops[i]
    xs = VOLT + VOLT[::-1]
    if dashed_rows[i]:
        blue_kw = dict(dashes=(3.0, 0.9, 0.9, 0.9))
        green_kw = dict(dashes=(3.0, 1.5))
    else:
        blue_kw = dict(linestyle='-')
        green_kw = dict(linestyle='-')
    ax.plot(xs, a_lo + a_hi[::-1], color=BLUE, lw=LW_LOOP, solid_joinstyle='round', **blue_kw)
    ax.plot(xs, k_lo + k_hi[::-1], color=GREEN, lw=LW_LOOP, solid_joinstyle='round', **green_kw)
    ax.plot(xs, r_lo + r_hi[::-1], color=RED, lw=LW_LOOP, solid_joinstyle='round', solid_capstyle='round')
    ax.set_xlim(0, 120)
    ax.set_ylim(*left_ylim[i])
    style(ax, np.arange(0, 121, 20), np.arange(10, left_ylim[i][1] + 0.1, 10))
    add_labels(ax, left_xlabel[i], left_ylabel[i], left_ylab_x[i], h * FIG_H)
    handles = [Line2D([], [], color=BLUE, lw=LW_LOOP, dashes=(1.9, 0.6, 0.8, 0.6)),
               Line2D([], [], color=GREEN, lw=LW_LOOP, dashes=(2.2, 1.4)),
               Line2D([], [], color=RED, lw=LW_LOOP)]
    lx, ly, pitch = left_leg[i]
    legend(ax, handles, LOOP_LABELS, 'upper left', (lx, ly), pitch, 0.3)

    # ---- modelling error ----
    b, h = right_rows[i]
    ax = fig.add_axes([RX, b, RW, h])
    kp, rd = errors[i]
    kp = np.array(kp)
    rd = np.array(rd)
    ax.plot(kp[:, 0], kp[:, 1], color=GREEN, lw=LW_ERR, solid_joinstyle='round')
    if i == 0:
        sk = np.array(SPIKE_1_KP)
        ax.vlines(sk[:, 0], sk[:, 1], sk[:, 2], colors=GREEN, lw=3.5)
    ax.plot(rd[:, 0], rd[:, 1], color=RED, lw=LW_ERR, solid_joinstyle='round')
    if i == 0:
        sr = np.array(SPIKE_1_RD)
        ax.vlines(sr[:, 0], sr[:, 1], sr[:, 2], colors=RED, lw=3.5)
    ax.set_xlim(0, right_xlim[i])
    ax.set_ylim(*right_ylim[i])
    style(ax, np.arange(0, right_xlim[i] + 1e-9, right_xstep[i]),
          np.arange(right_ylim[i][0], right_ylim[i][1] + 1e-9, right_ystep[i])
          if i != 4 else np.arange(-4, 6.1, 2))
    add_labels(ax, right_xlabel[i], right_ylabel[i], right_ylab_x[i], h * FIG_H)
    handles = [Line2D([], [], color=GREEN, lw=LW_ERR, dashes=(2.6, 1.6)),
               Line2D([], [], color=RED, lw=LW_ERR)]
    rx, ry, pitch = right_leg[i]
    legend(ax, handles, ERR_LABELS, 'upper right', (rx, ry), pitch, 0.45)

fig.savefig('out.png', dpi=100, facecolor='white')
